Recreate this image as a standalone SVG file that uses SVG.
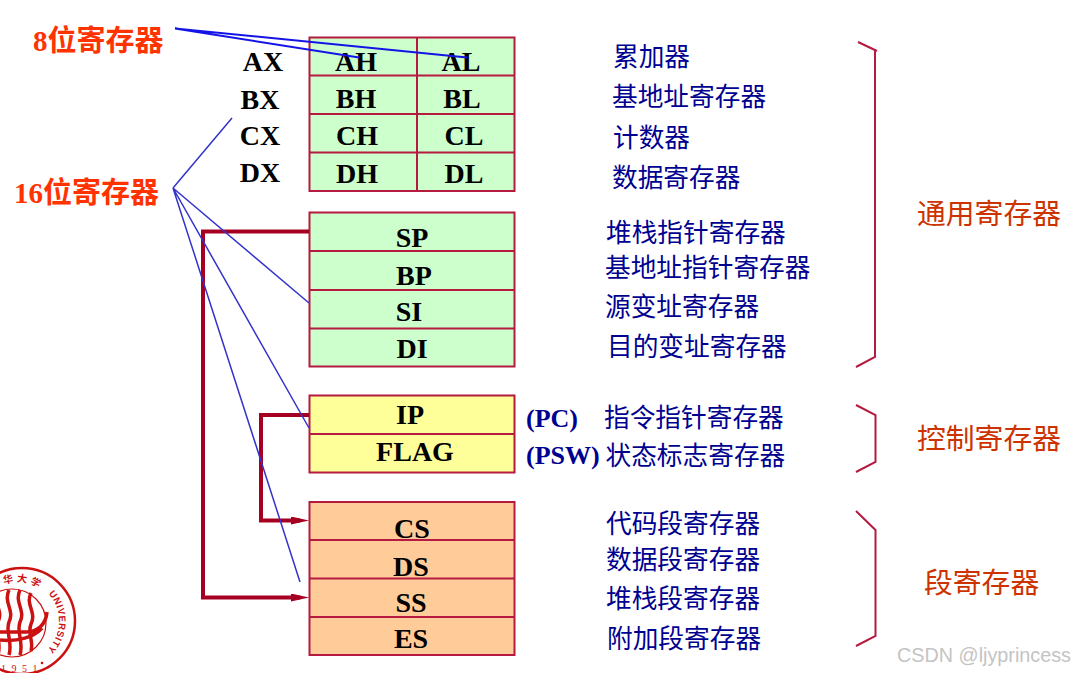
<svg xmlns="http://www.w3.org/2000/svg" width="1074" height="673" viewBox="0 0 1074 673">
<style>
.reg{stroke:#b51a40;stroke-width:2}
.g{fill:#ccffcc}.y{fill:#ffff99}.o{fill:#ffcc99}
.div{stroke:#b51a40;stroke-width:2;fill:none}
text{font-family:"Liberation Serif","Noto Sans CJK SC",serif}
.t{font-size:28px;font-weight:bold;fill:#000;text-anchor:middle}
.d{font-size:25.700px;fill:#000090;font-family:"Noto Sans CJK SC",sans-serif}
.p{font-size:26px;font-weight:bold;fill:#000090}
.h{font-size:29px;font-weight:bold;fill:#ff3300}
.c{font-size:28.800px;fill:#cc3300;font-family:"Noto Sans CJK SC",sans-serif}
.blue{stroke:#3333cc;stroke-width:1.500;fill:none}
.blue2{stroke:#1414e6;stroke-width:2;fill:none}
.red{stroke:#a50021;stroke-width:4;fill:none}
.br{stroke:#b51a40;stroke-width:2;fill:none}
.lt{fill:#cc1111;font-weight:bold}
</style>
<defs>
<marker id="ah" markerUnits="userSpaceOnUse" markerWidth="18" markerHeight="8" refX="9" refY="4" orient="auto"><path d="M0 0L18 4L0 8z" fill="#a50021"/></marker>
<path id="arcTop" d="M4 584.500A39 39 0 0 1 41 589.500"/>
<path id="arcRight" d="M48.500 593.600A41 41 0 0 1 35.300 658.200"/>
</defs>
<rect width="1074" height="673" fill="#fff"/>

<g id="general-hl">
<rect class="reg g" x="309.500" y="37.500" width="205" height="153.500"/>
<path class="div" d="M309.500 75.500H514.500M309.500 114H514.500M309.500 152.500H514.500M417 37.500V191"/>
<text class="t" x="356" y="71">AH</text><text class="t" x="461" y="71">AL</text>
<text class="t" x="356" y="108">BH</text><text class="t" x="462" y="108">BL</text>
<text class="t" x="357" y="145">CH</text><text class="t" x="464" y="145">CL</text>
<text class="t" x="357" y="183">DH</text><text class="t" x="464" y="183">DL</text>
</g>
<g id="x-labels">
<text class="t" x="263" y="71">AX</text><text class="t" x="260" y="109">BX</text>
<text class="t" x="260" y="145">CX</text><text class="t" x="260" y="182">DX</text>
</g>
<g id="pointer-regs">
<rect class="reg g" x="309.500" y="212.500" width="205" height="154"/>
<path class="div" d="M309.500 251H514.500M309.500 290H514.500M309.500 328.500H514.500"/>
<text class="t" x="412" y="247">SP</text><text class="t" x="414" y="285">BP</text>
<text class="t" x="409" y="321">SI</text><text class="t" x="412" y="358">DI</text>
</g>
<g id="control-regs">
<rect class="reg y" x="309.500" y="395.500" width="205" height="77"/>
<path class="div" d="M309.500 434H514.500"/>
<text class="t" x="410" y="424">IP</text><text class="t" x="415" y="461">FLAG</text>
</g>
<g id="segment-regs">
<rect class="reg o" x="309.500" y="502" width="205" height="153"/>
<path class="div" d="M309.500 540H514.500M309.500 578.500H514.500M309.500 617H514.500"/>
<text class="t" x="412" y="538">CS</text><text class="t" x="411" y="576">DS</text>
<text class="t" x="411" y="612">SS</text><text class="t" x="411" y="648">ES</text>
</g>

<g id="connectors">
<path class="red" d="M309 231.500H203V597.500H300" marker-end="url(#ah)"/>
<path class="red" d="M309 415H261V520.500H300" marker-end="url(#ah)"/>
<path class="blue2" d="M175 28.500L359 57.500M175 28.500L467 57.500"/>
<path class="blue" d="M173 188L232 118M173 188L309 303M173 188L309 428M173 188L300 582"/>
<path class="br" d="M858 42L877 51M875 51V357L856 367"/>
<path class="br" d="M856 405L875.500 415V462L856 472"/>
<path class="br" d="M856 511L875.500 530V636L856 646"/>
</g>

<g id="left-labels">
<text class="h" x="33" y="51">8位寄存器</text>
<text class="h" x="14" y="203">16位寄存器</text>
</g>
<g id="descriptions">
<text class="d" x="613" y="66">累加器</text>
<text class="d" x="612" y="106">基地址寄存器</text>
<text class="d" x="613" y="147">计数器</text>
<text class="d" x="612" y="187">数据寄存器</text>
<text class="d" x="606" y="242">堆栈指针寄存器</text>
<text class="d" x="605" y="277">基地址指针寄存器</text>
<text class="d" x="605" y="316">源变址寄存器</text>
<text class="d" x="607" y="356">目的变址寄存器</text>
<text class="d" x="604" y="427">指令指针寄存器</text>
<text class="d" x="605.500" y="465">状态标志寄存器</text>
<text class="d" x="606" y="533">代码段寄存器</text>
<text class="d" x="606" y="569">数据段寄存器</text>
<text class="d" x="606" y="608">堆栈段寄存器</text>
<text class="d" x="607" y="648">附加段寄存器</text>
<text class="p" x="526" y="427">(PC)</text>
<text class="p" x="526" y="464">(PSW)</text>
</g>
<g id="category-labels">
<text class="c" x="917" y="224">通用寄存器</text>
<text class="c" x="917" y="449">控制寄存器</text>
<text class="c" x="924" y="593">段寄存器</text>
</g>

<g id="logo" fill="none" stroke="#cc1111">
<circle cx="22" cy="621" r="53" stroke-width="2.500"/>
<circle cx="12" cy="623" r="34" stroke-width="1.200"/>
<path stroke-width="3.500" d="M9 590C3 603 15 610 9 622C5 632 13 642 9 655M20 590C14 603 26 610 20 622C16 632 24 642 20 655M31 593C25 605 37 612 31 624C27 634 34 640 31 651M-2 592C-8 604 4 610 -2 622C-6 632 2 642 -2 655"/>
<path stroke-width="3.500" d="M0 632H26C38 632 46 624 47 612M0 640C18 642 34 637 42 628"/>
<text class="lt" font-size="10" stroke="none" letter-spacing="3" style="font-family:'Noto Sans CJK SC',sans-serif"><textPath href="#arcTop">华大学</textPath></text>
<text class="lt" font-size="9.500" stroke="none" letter-spacing="0.500" style="font-family:'Liberation Sans',sans-serif"><textPath href="#arcRight">UNIVERSITY</textPath></text>
<text class="lt" font-size="10" stroke="none" x="1" y="672" letter-spacing="5.500" style="font-weight:normal">1951</text>
<circle cx="42" cy="663" r="1.300" fill="#cc1111" stroke="none"/>
</g>

<text id="watermark" x="897" y="662" font-size="19.800" fill="#c4c4c4" style="font-family:'Liberation Sans',sans-serif">CSDN @ljyprincess</text>
</svg>
